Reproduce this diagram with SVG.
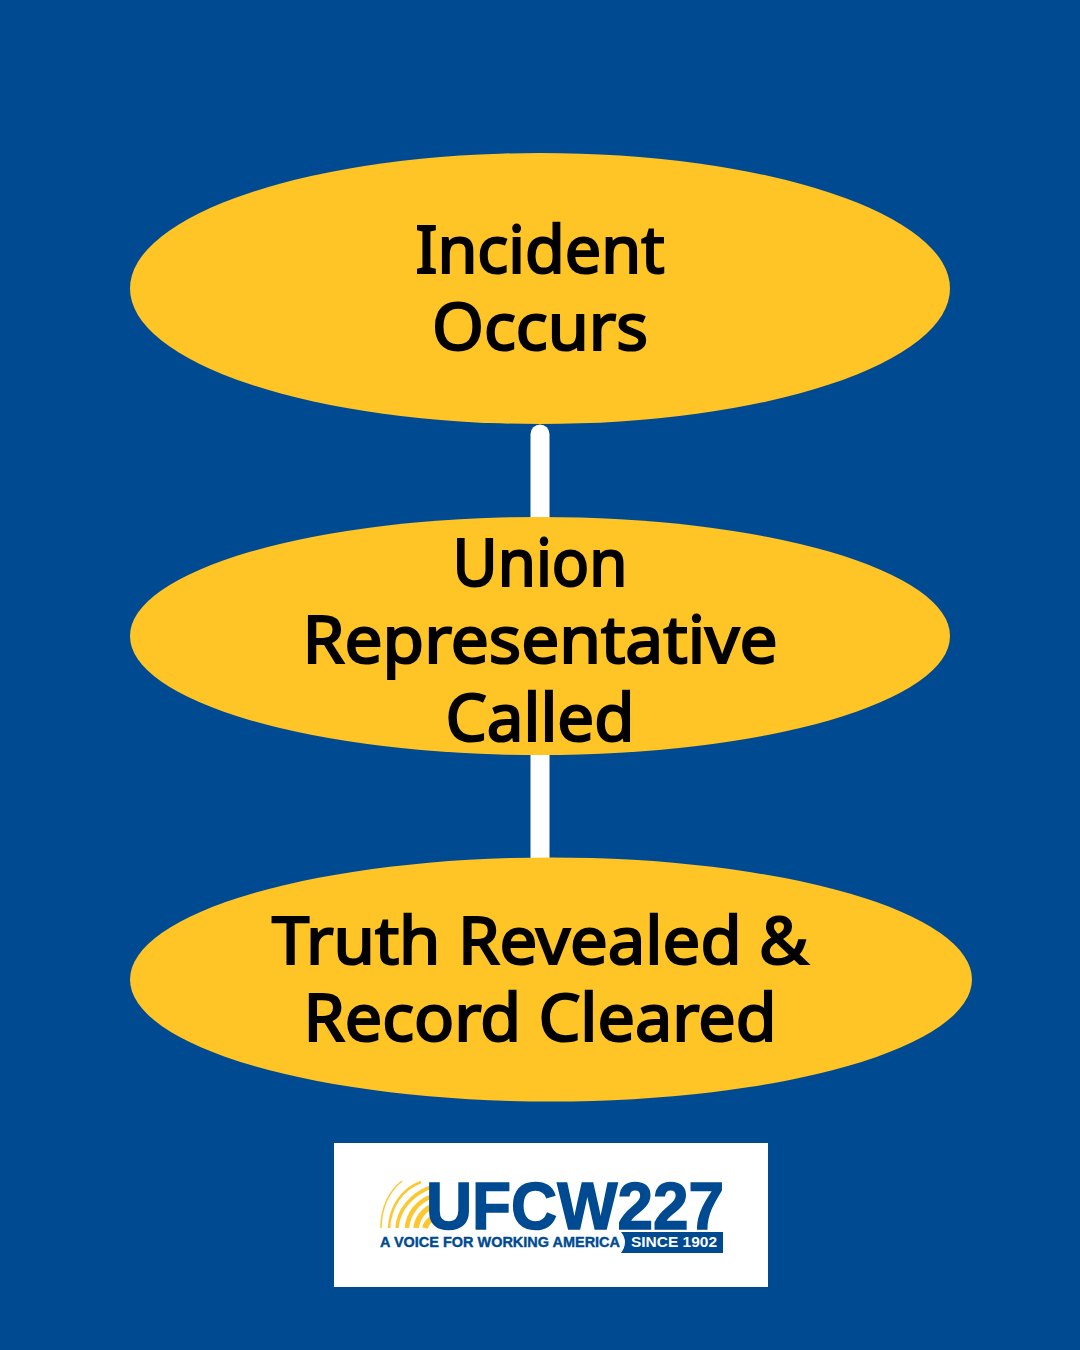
<svg xmlns="http://www.w3.org/2000/svg" width="1080" height="1350" viewBox="0 0 1080 1350">
<style>
.n{fill:#ffc425}
.t{font-family:"Noto Sans","Open Sans",sans-serif;font-size:66px;font-weight:400;fill:#000;stroke:#000;stroke-width:2.200;text-anchor:middle}
.c{stroke:#fff;stroke-width:19;stroke-linecap:round;fill:none}
.a{fill:none;stroke:#fdc82f}
.l{font-family:"Liberation Sans",Arial,sans-serif;font-weight:700;fill:#004a92}
</style>
<rect width="1080" height="1350" fill="#004a92"/>
<g id="connectors">
<path class="c" d="M540 434V530"/>
<path class="c" d="M540 740V870"/>
</g>
<g id="node-incident">
<ellipse class="n" cx="540" cy="288.500" rx="410" ry="135.500"/>
<text class="t" x="540" y="272.500" textLength="249" lengthAdjust="spacingAndGlyphs">Incident</text>
<text class="t" x="540" y="349.500" textLength="216" lengthAdjust="spacingAndGlyphs">Occurs</text>
</g>
<g id="node-union">
<ellipse class="n" cx="540" cy="636" rx="410" ry="119"/>
<text class="t" x="540" y="585.500" textLength="175" lengthAdjust="spacingAndGlyphs">Union</text>
<text class="t" x="540" y="663" textLength="475" lengthAdjust="spacingAndGlyphs">Representative</text>
<text class="t" x="540" y="740.500" textLength="189" lengthAdjust="spacingAndGlyphs">Called</text>
</g>
<g id="node-truth">
<ellipse class="n" cx="551" cy="979.500" rx="421" ry="122" />
<text class="t" x="540" y="963.500" textLength="536" lengthAdjust="spacingAndGlyphs">Truth Revealed &amp;</text>
<text class="t" x="540" y="1040.500" textLength="473" lengthAdjust="spacingAndGlyphs">Record Cleared</text>
</g>
<g id="logo">
<rect x="334" y="1143" width="434" height="144" fill="#fff"/>
<path class="a" stroke-width="1.500" d="M381 1228C381 1208 389 1191 402 1181"/>
<path class="a" stroke-width="2.500" d="M389 1228C390 1207 402 1189 421 1182"/>
<path class="a" stroke-width="3.500" d="M397 1228C398 1211 410 1195 431 1187"/>
<path class="a" stroke-width="4.500" d="M407 1228C408 1214 417 1202 432 1196"/>
<path class="a" stroke-width="5.500" d="M416 1228C417 1219 423 1210 433 1206"/>
<path class="a" stroke-width="6" d="M425 1228C426 1224 429 1220 434 1217"/>
<text class="l" x="426" y="1229" font-size="67" stroke="#004a92" stroke-width="1.500" textLength="298" lengthAdjust="spacingAndGlyphs">UFCW227</text>
<text class="l" x="380" y="1247" font-size="15" stroke="#004a92" stroke-width="0.400" textLength="240" lengthAdjust="spacingAndGlyphs">A VOICE FOR WORKING AMERICA</text>
<path fill="#004a92" d="M621 1232H723V1253H621Q629 1242 621 1232Z"/>
<text x="631" y="1247" font-family="Liberation Sans,Arial,sans-serif" font-size="14.500" font-weight="700" fill="#fff" textLength="86" lengthAdjust="spacingAndGlyphs">SINCE 1902</text>
</g>
</svg>
